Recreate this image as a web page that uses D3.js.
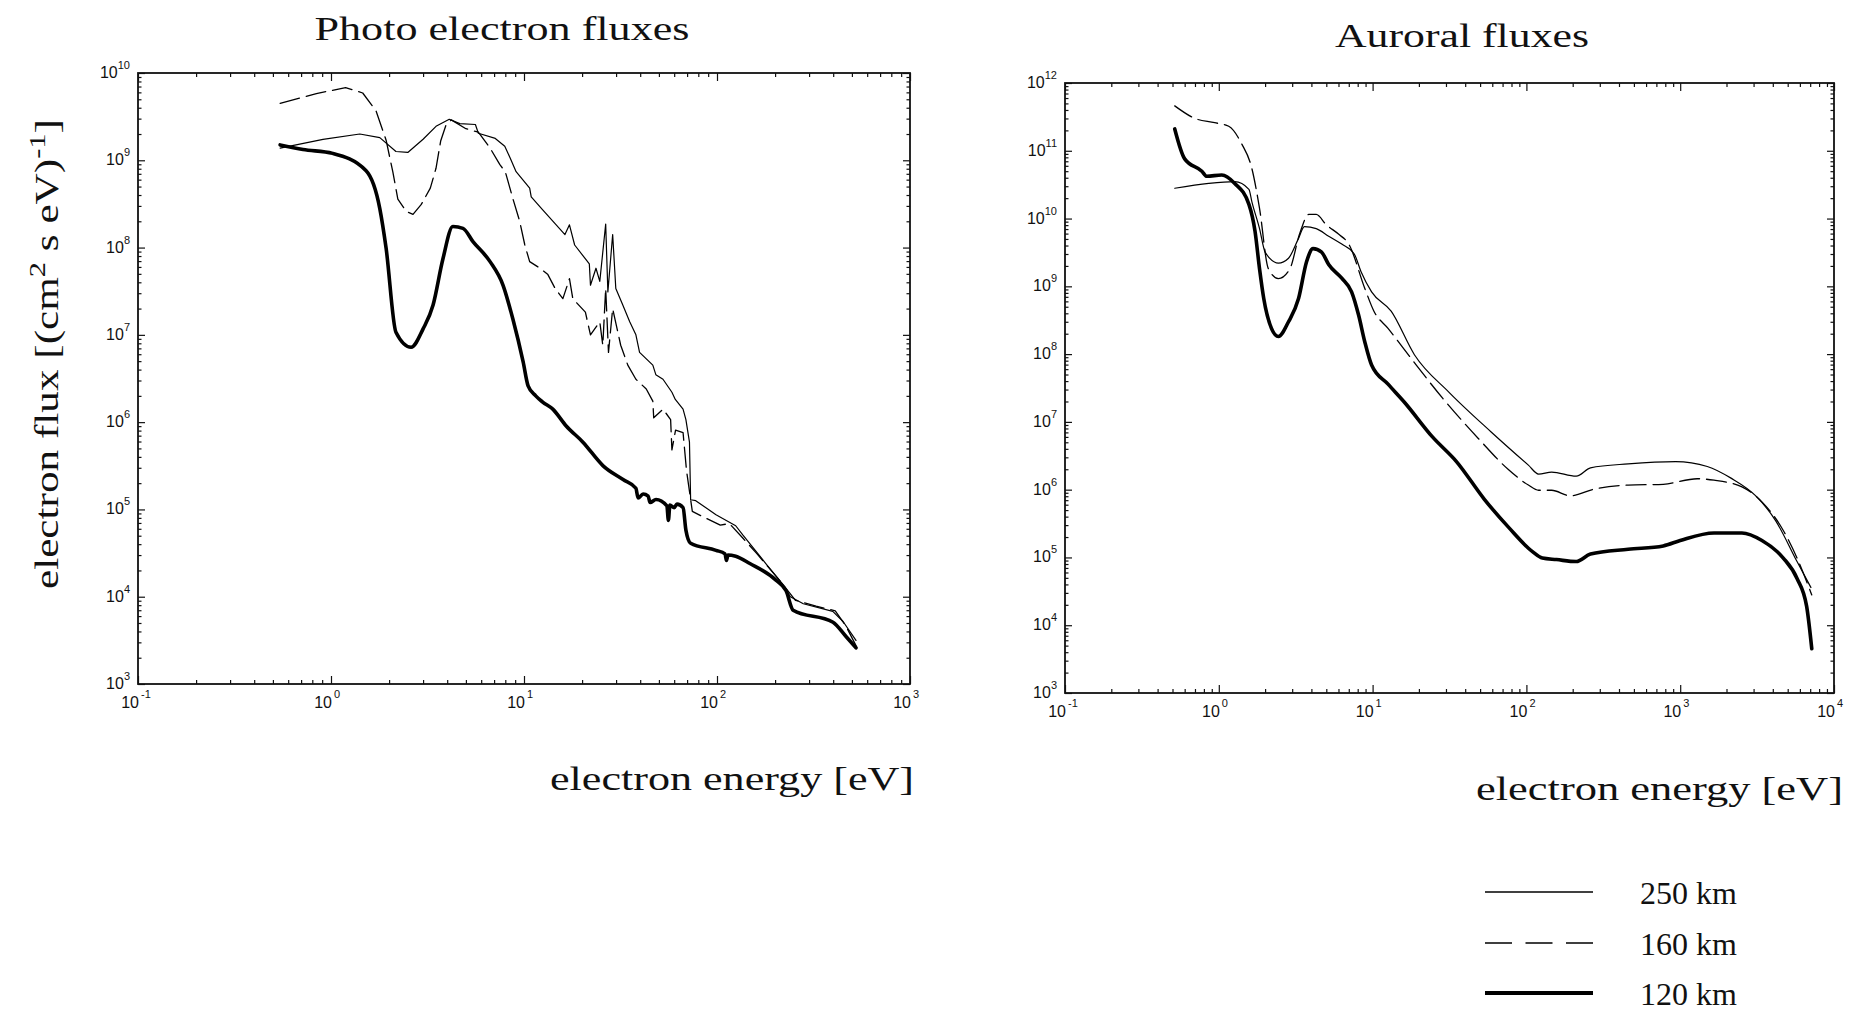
<!DOCTYPE html>
<html><head><meta charset="utf-8">
<script src="https://cdn.jsdelivr.net/npm/d3@7"></script>
<style>body{margin:0;background:#fff;overflow:hidden}</style>
</head><body>
<svg id="c" width="1861" height="1019"></svg>
<script>
// ---------- DATA ----------
// Photo electron fluxes (left panel)
const photo250E = [0.545,0.909,1.41,1.79,2.17,2.5,3.0,3.5,4.1,4.65,5.6,5.8,7.1,7.95,8.5,9.1,10.7,10.9,12.5,16.3,17.2,18.3,21.8,22.1,23.6,24.7,26.5,27.2,28.8,29.9,32.5,35.3,38,39.7,46.5,48.2,52.5,58.4,60.8,66.7,69,72,73,77.6,98.8,125,136,179,218,240,280,398,450,525];
const photo250F = [1.38e9,1.74e9,2.0e9,1.82e9,1.26e9,1.23e9,1.74e9,2.45e9,2.95e9,2.63e9,2.57e9,2.04e9,1.78e9,1.45e9,1.05e9,7.4e8,4.8e8,3.8e8,2.7e8,1.41e8,1.82e8,1.07e8,6.5e7,3.7e7,5.8e7,4.1e7,1.86e8,3.1e7,1.41e8,3.4e7,2.2e7,1.41e7,1.0e7,6.3e6,4.5e6,3.5e6,3.1e6,2.2e6,1.82e6,1.41e6,1.07e6,5.9e5,1.29e5,1.26e5,8.7e4,6.5e4,5.1e4,2.4e4,1.41e4,1.0e4,8.3e3,6.8e3,5.2e3,3.16e3];

const photo160E = [0.545,0.84,1.19,1.46,1.71,1.93,2.09,2.22,2.45,2.66,2.93,3.27,3.5,3.7,3.95,4.2,5.0,5.8,6.67,7.5,8.0,8.77,9.5,10.1,10.7,12.1,13.3,14.5,15.9,17.2,17.9,20.8,22.1,24.7,25.6,26.5,27.4,28.8,31.7,34.5,38,43,46.5,47,52.5,57.5,58.4,61,66.7,69.5,74.5,84,104,116,136,160,218,255,326,410,466,525];
const photo160F = [4.5e9,5.8e9,6.8e9,5.9e9,3.7e9,1.7e9,7.4e8,3.6e8,2.6e8,2.4e8,3.1e8,4.8e8,8.1e8,1.66e9,2.57e9,2.9e9,2.3e9,2.1e9,1.38e9,8.9e8,7.4e8,3.6e8,2.0e8,1.07e8,6.9e7,5.8e7,4.9e7,3.4e7,2.6e7,4.4e7,2.6e7,1.82e7,1.0e7,1.41e7,7.6e6,3.4e7,6.3e6,2.0e7,7.6e6,4.5e6,3.1e6,2.4e6,1.74e6,1.12e6,1.41e6,1.07e6,4.8e5,8.1e5,7.6e5,2.8e5,9.5e4,8.3e4,6.6e4,6.9e4,4.7e4,3.16e4,1.41e4,9.1e3,7.8e3,6.9e3,4.6e3,2.75e3];

const photo120E = [0.545,0.716,1.02,1.52,1.79,1.93,2.17,2.6,3.0,3.38,3.8,4.28,4.83,5.44,6.67,7.79,8.77,9.9,10.5,11.5,12.5,14.1,16.5,20.2,25.7,32.6,38,39,41.4,44,45,48.3,55,56,57,60,62,66.7,69,73,98.8,110,112,114,125,148,202,228,248,399,466,525];
const photo120F = [1.5e9,1.33e9,1.2e9,7.6e8,2.8e8,9.8e7,1.07e7,7.2e6,1.17e7,2.2e7,7.4e7,1.74e8,1.66e8,1.17e8,6.9e7,3.7e7,1.5e7,4.9e6,2.6e6,2.0e6,1.7e6,1.41e6,9.1e5,5.9e5,3.16e5,2.2e5,1.75e5,1.35e5,1.5e5,1.42e5,1.2e5,1.3e5,1.1e5,7.5e4,1.12e5,1.05e5,1.15e5,1.05e5,5.8e4,4.1e4,3.4e4,3.1e4,2.6e4,3.0e4,2.9e4,2.4e4,1.55e4,1.17e4,7.0e3,5.1e3,3.5e3,2.6e3];

// Auroral fluxes (right panel)
const aur250E = [0.517,0.86,1.27,1.57,1.64,1.84,2.0,2.44,2.84,3.3,3.6,4.3,5.18,6.3,7.6,8.4,9.85,13.2,18.7,31.3,59,103,120,146,211,261,459,933,1500,2140,3100,4170,5750,7080];
const aur250F = [2.8e10,3.3e10,3.5e10,2.7e10,1.78e10,7.1e9,3.2e9,2.2e9,2.6e9,5.1e9,7.6e9,7.1e9,5.5e9,4.2e9,3.0e9,1.66e9,8.3e8,4.3e8,9.8e7,2.75e7,7.1e6,2.3e6,1.7e6,1.82e6,1.58e6,2.1e6,2.4e6,2.6e6,2.2e6,1.48e6,8.1e5,3.5e5,8.7e4,3.6e4];

const aur160E = [0.517,0.70,0.94,1.16,1.41,1.64,1.84,2.1,2.44,2.9,3.35,3.85,4.3,5.0,6.0,7.0,8.9,10.2,12.6,17.9,28.7,49,76,103,120,146,193,276,459,776,1290,1660,2520,3400,4680,5750,7170];
const aur160F = [4.6e11,3.0e11,2.6e11,2.3e11,1.26e11,5.5e10,1.41e10,1.82e9,1.3e9,1.82e9,5.9e9,1.15e10,1.15e10,8.1e9,5.9e9,4.2e9,9.3e8,4.3e8,2.4e8,8.5e7,2.2e7,5.6e6,2.0e6,1.17e6,9.8e5,9.8e5,8.1e5,1.02e6,1.17e6,1.2e6,1.45e6,1.38e6,1.1e6,6.6e5,2.5e5,9.8e4,2.8e4];

const aur120E = [0.517,0.60,0.776,0.835,1.045,1.27,1.57,1.72,1.84,1.96,2.2,2.44,2.84,3.3,3.72,4.1,4.66,5.18,6.3,7.3,8.1,8.9,9.85,12.6,16.1,24.5,35.1,53.3,76.4,109,127,157,211,261,459,776,1000,1660,2520,3400,4680,5750,6640,7170];
const aur120F = [2.1e11,7.6e10,5.0e10,4.2e10,4.4e10,3.3e10,1.62e10,6.5e9,1.82e9,6.6e8,2.4e8,1.82e8,3.0e8,6.6e8,2.3e9,3.6e9,3.2e9,2.1e9,1.32e9,8.3e8,3.8e8,1.51e8,6.9e7,3.6e7,1.95e7,6.0e6,2.6e6,7.2e5,2.8e5,1.23e5,9.8e4,9.3e4,8.7e4,1.12e5,1.32e5,1.48e5,1.78e5,2.3e5,2.3e5,1.78e5,9.8e4,4.9e4,1.9e4,4.5e3];

// tick label exponents
const photoXExp = [-1,0,1,2,3];
const photoYExp = [3,4,5,6,7,8,9,10];
const aurXExp = [-1,0,1,2,3,4];
const aurYExp = [3,4,5,6,7,8,9,10,11,12];

// legend
const legendLabels = ["250 km","160 km","120 km"];

// ---------- DRAW ----------
const svg = d3.select('#c');
const SERIF = "'Liberation Serif','Times New Roman',serif";
const SANS = "'Liberation Sans',Arial,Helvetica,sans-serif";
const styles = {
  "250": {w:1.2, dash:null},
  "160": {w:1.3, dash:"20,7"},
  "120": {w:3.6, dash:null}
};

function minorTicks(lo, hi){
  const out=[];
  for(let d=lo; d<hi; d++) for(let k=2;k<=9;k++) out.push(k*Math.pow(10,d));
  return out;
}
function majorTicks(exps){ return exps.map(e=>Math.pow(10,e)); }

function panel(opt){
  const g = svg.append('g');
  const x = d3.scaleLog().domain([Math.pow(10,opt.xExp[0]), Math.pow(10,opt.xExp[opt.xExp.length-1])]).range(opt.xr);
  const y = d3.scaleLog().domain([Math.pow(10,opt.yExp[0]), Math.pow(10,opt.yExp[opt.yExp.length-1])]).range(opt.yr);
  const [x0,x1]=opt.xr, [y0,y1]=opt.yr;
  const xMaj=majorTicks(opt.xExp), xMin=minorTicks(opt.xExp[0], opt.xExp[opt.xExp.length-1]);
  const yMaj=majorTicks(opt.yExp), yMin=minorTicks(opt.yExp[0], opt.yExp[opt.yExp.length-1]);
  const add=(axis,tr)=>g.append('g').attr('transform',tr).call(axis).call(s=>{
    s.select('.domain').remove();
    s.selectAll('text').remove();
    s.selectAll('line').attr('stroke','#111').attr('stroke-width',1.2);
  });
  add(d3.axisBottom(x).tickValues(xMaj).tickSize(-8).tickFormat(''),`translate(0,${y0})`);
  add(d3.axisBottom(x).tickValues(xMin).tickSize(-4).tickFormat(''),`translate(0,${y0})`);
  add(d3.axisTop(x).tickValues(xMaj).tickSize(-8).tickFormat(''),`translate(0,${y1})`);
  add(d3.axisTop(x).tickValues(xMin).tickSize(-4).tickFormat(''),`translate(0,${y1})`);
  add(d3.axisLeft(y).tickValues(yMaj).tickSize(-7).tickFormat(''),`translate(${x0},0)`);
  add(d3.axisLeft(y).tickValues(yMin).tickSize(-3.5).tickFormat(''),`translate(${x0},0)`);
  add(d3.axisRight(y).tickValues(yMaj).tickSize(-7).tickFormat(''),`translate(${x1},0)`);
  add(d3.axisRight(y).tickValues(yMin).tickSize(-3.5).tickFormat(''),`translate(${x1},0)`);
  g.append('rect').attr('x',x0).attr('y',y1).attr('width',x1-x0).attr('height',y0-y1)
    .attr('fill','none').attr('stroke','#111').attr('stroke-width',1.8);

  // y tick labels
  opt.yExp.forEach(e=>{
    const t=g.append('text').attr('x',x0-8).attr('y',y(Math.pow(10,e))+5)
      .attr('text-anchor','end').attr('font-family',SANS).attr('fill','#111');
    t.append('tspan').attr('font-size',16).text('10');
    t.append('tspan').attr('font-size',11).attr('dy',-9).text(e);
  });
  // x tick labels
  opt.xExp.forEach(e=>{
    const px=x(Math.pow(10,e));
    g.append('text').attr('x',px+1).attr('y',y0+24).attr('text-anchor','end')
      .attr('font-family',SANS).attr('font-size',16).attr('fill','#111').text('10');
    g.append('text').attr('x',px+3).attr('y',y0+14).attr('text-anchor','start')
      .attr('font-family',SANS).attr('font-size',11).attr('fill','#111').text(e);
  });

  // series
  opt.series.forEach(s=>{
    const st=styles[s.key];
    const line=d3.line().x(d=>x(d[0])).y(d=>y(d[1])).curve(s.curve);
    g.append('path').datum(d3.zip(s.E,s.F)).attr('d',line)
      .attr('fill','none').attr('stroke','#000').attr('stroke-width',st.w)
      .attr('stroke-linejoin','round').attr('stroke-linecap','round')
      .attr('stroke-dasharray',st.dash);
  });

  // title & x label
  g.append('text').attr('x',opt.title.x).attr('y',opt.title.y).attr('text-anchor','middle')
    .attr('font-family',SERIF).attr('font-size',34).attr('fill','#111')
    .attr('textLength',opt.title.len).attr('lengthAdjust','spacingAndGlyphs').text(opt.title.text);
  g.append('text').attr('x',opt.xlab.x).attr('y',opt.xlab.y).attr('text-anchor','start')
    .attr('font-family',SERIF).attr('font-size',33).attr('fill','#111')
    .attr('textLength',opt.xlab.len).attr('lengthAdjust','spacingAndGlyphs').text('electron energy [eV]');
  return {x,y};
}

panel({
  xr:[138,910], yr:[684,73], xExp:photoXExp, yExp:photoYExp,
  series:[
    {key:"250",E:photo250E,F:photo250F,curve:d3.curveLinear},
    {key:"160",E:photo160E,F:photo160F,curve:d3.curveLinear},
    {key:"120",E:photo120E,F:photo120F,curve:d3.curveMonotoneX}
  ],
  title:{text:'Photo electron fluxes',x:502,y:40,len:375},
  xlab:{x:550,y:790,len:364}
});
panel({
  xr:[1065,1834], yr:[693,83], xExp:aurXExp, yExp:aurYExp,
  series:[
    {key:"250",E:aur250E,F:aur250F,curve:d3.curveMonotoneX},
    {key:"160",E:aur160E,F:aur160F,curve:d3.curveMonotoneX},
    {key:"120",E:aur120E,F:aur120F,curve:d3.curveMonotoneX}
  ],
  title:{text:'Auroral fluxes',x:1462,y:47,len:254},
  xlab:{x:1476,y:800,len:367}
});

// y axis label
const yl = svg.append('text').attr('transform','translate(58,354) rotate(-90)')
  .attr('text-anchor','middle').attr('font-family',SERIF).attr('font-size',34).attr('fill','#111')
  .attr('textLength',470).attr('lengthAdjust','spacingAndGlyphs');
yl.append('tspan').text('electron flux [(cm');
yl.append('tspan').attr('font-size',24).attr('dy',-13).text('2');
yl.append('tspan').attr('dy',13).text(' s eV)');
yl.append('tspan').attr('font-size',24).attr('dy',-13).text('-1');
yl.append('tspan').attr('dy',13).text(']');

// legend
const legKeys=["250","160","120"];
const legY=[892,943,993];
const lg=svg.append('g');
legKeys.forEach((k,i)=>{
  lg.append('line').attr('x1',1485).attr('x2',1593).attr('y1',legY[i]).attr('y2',legY[i])
    .attr('stroke','#000').attr('stroke-width',k==="120"?4:1.6)
    .attr('stroke-dasharray',k==="160"?"27,13.5":null);
  lg.append('text').attr('x',1640).attr('y',legY[i]+12).attr('font-family',SERIF)
    .attr('font-size',32).attr('fill','#111').text(legendLabels[i]);
});
</script>
</body></html>
